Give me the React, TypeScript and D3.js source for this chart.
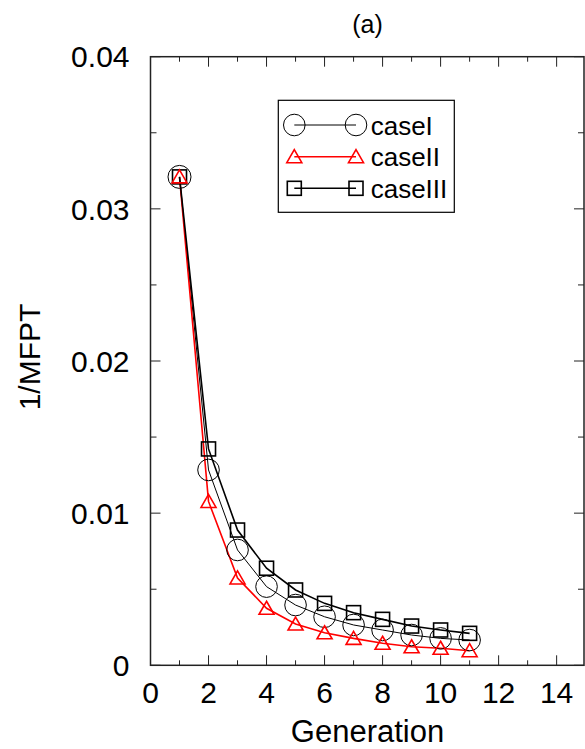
import React from "react";
import * as d3 from "d3";

const generations = [1, 2, 3, 4, 5, 6, 7, 8, 9, 10, 11];
const caseI = [0.0321, 0.01284, 0.00758, 0.00517, 0.00396, 0.00319, 0.00265, 0.00232, 0.00199, 0.00177, 0.00166];
const caseII = [0.0321, 0.01077, 0.00574, 0.00375, 0.00271, 0.00214, 0.00177, 0.00145, 0.00122, 0.00112, 0.00096];
const caseIII = [0.0321, 0.01422, 0.00889, 0.00638, 0.00495, 0.00407, 0.00346, 0.00302, 0.00258, 0.00232, 0.0021];
const xTickLabels = [0, 2, 4, 6, 8, 10, 12, 14];
const yTickLabels = [0, 0.01, 0.02, 0.03, 0.04];
const seriesNames = ["caseI", "caseII", "caseIII"];

const W = 585;
const H = 749;
const L = 150.5;
const R = 584;
const T = 56.7;
const B = 665.3;
const FONT = "'Liberation Sans', Arial, Helvetica, sans-serif";

export default function App() {
  const x = d3.scaleLinear().domain([0, 15]).range([L, L + 29.01 * 15]);
  const y = d3.scaleLinear().domain([0, 0.04]).range([B, T]);

  const line = d3
    .line<number>()
    .x((_, i) => x(generations[i]))
    .y((d) => y(d))
    .curve(d3.curveLinear);

  const minorX = d3.range(0, 16, 1);
  const minorY = d3.range(0, 0.0401, 0.005);

  const circle = (cx: number, cy: number, r: number, key: any) => (
    <circle key={key} cx={cx} cy={cy} r={r} fill="none" stroke="#000" strokeWidth={1} />
  );
  const tri = (cx: number, cy: number, key: any) => (
    <path
      key={key}
      d={`M${cx},${cy - 7} L${cx + 7.5},${cy + 6} L${cx - 7.5},${cy + 6} Z`}
      fill="none"
      stroke="#ff0000"
      strokeWidth={1.6}
    />
  );
  const sq = (cx: number, cy: number, key: any) => (
    <rect key={key} x={cx - 7} y={cy - 7} width={14} height={14} fill="none" stroke="#000" strokeWidth={1.6} />
  );

  const legendRows = [125, 156.7, 188.3];
  const lx1 = 294.3;
  const lx2 = 356;

  return (
    <div style={{ position: "absolute", left: 0, top: 0 }}>
      <svg width={W} height={H} style={{ display: "block", background: "#fff" }}>
        <rect x={0} y={0} width={W} height={H} fill="#fff" />
        {/* ticks */}
        {minorX.map((v) => {
          const major = v % 2 === 0;
          const len = major ? 10 : 5;
          return (
            <g key={"xt" + v} stroke="#222" strokeWidth={1}>
              <line x1={x(v)} x2={x(v)} y1={B} y2={B - len} />
              <line x1={x(v)} x2={x(v)} y1={T} y2={T + len} />
            </g>
          );
        })}
        {minorY.map((v, i) => {
          const major = i % 2 === 0;
          const len = major ? 10 : 6;
          return (
            <g key={"yt" + i} stroke="#222" strokeWidth={1}>
              <line x1={L} x2={L + len} y1={y(v)} y2={y(v)} />
              <line x1={R} x2={R - len} y1={y(v)} y2={y(v)} />
            </g>
          );
        })}
        <rect x={L} y={T} width={R - L} height={B - T} fill="none" stroke="#222" strokeWidth={1.5} />

        {/* tick labels */}
        {xTickLabels.map((v) => (
          <text key={"xl" + v} x={x(v)} y={702.5} textAnchor="middle" fontFamily={FONT} fontSize={30} fill="#000">
            {v}
          </text>
        ))}
        {yTickLabels.map((v) => (
          <text
            key={"yl" + v}
            x={129.5}
            y={y(v) + 10.7}
            textAnchor="end"
            fontFamily={FONT}
            fontSize={30}
            fill="#000"
          >
            {v === 0 ? "0" : v.toFixed(2)}
          </text>
        ))}

        {/* axis titles */}
        <text x={367.5} y={742} textAnchor="middle" fontFamily={FONT} fontSize={31} fill="#000">
          Generation
        </text>
        <text
          transform={`translate(40,357) rotate(-90)`}
          textAnchor="middle"
          fontFamily={FONT}
          fontSize={30}
          fill="#000"
        >
          1/MFPT
        </text>
        <text x={367.5} y={33} textAnchor="middle" fontFamily={FONT} fontSize={25} fill="#000">
          (a)
        </text>

        {/* lines */}
        <path d={line(caseI) || ""} fill="none" stroke="#000" strokeWidth={1} />
        <path d={line(caseII) || ""} fill="none" stroke="#ff0000" strokeWidth={1.6} />
        <path d={line(caseIII) || ""} fill="none" stroke="#000" strokeWidth={1.6} />

        {/* markers */}
        {caseI.map((v, i) => circle(x(generations[i]), y(v), i === 0 ? 11.5 : 10.8, "c" + i))}
        {caseIII.map((v, i) => sq(x(generations[i]), y(v), "s" + i))}
        {caseII.map((v, i) => tri(x(generations[i]), y(v), "t" + i))}

        {/* legend */}
        <rect x={278.3} y={100.3} width={176} height={112} fill="#fff" stroke="#000" strokeWidth={1.2} />
        <line x1={lx1} x2={lx2} y1={legendRows[0]} y2={legendRows[0]} stroke="#000" strokeWidth={1} />
        {circle(lx1, legendRows[0], 10.8, "lc1")}
        {circle(lx2, legendRows[0], 10.8, "lc2")}
        <line x1={lx1} x2={lx2} y1={legendRows[1]} y2={legendRows[1]} stroke="#ff0000" strokeWidth={1.6} />
        {tri(lx1, legendRows[1], "lt1")}
        {tri(lx2, legendRows[1], "lt2")}
        <line x1={lx1} x2={lx2} y1={legendRows[2]} y2={legendRows[2]} stroke="#000" strokeWidth={1.6} />
        {sq(lx1, legendRows[2], "ls1")}
        {sq(lx2, legendRows[2], "ls2")}
        {seriesNames.map((n, i) => (
          <text key={n} x={370.7} y={legendRows[i] + 9.5} fontFamily={FONT} fontSize={26} fill="#000">
            {n}
          </text>
        ))}
      </svg>
    </div>
  );
}
